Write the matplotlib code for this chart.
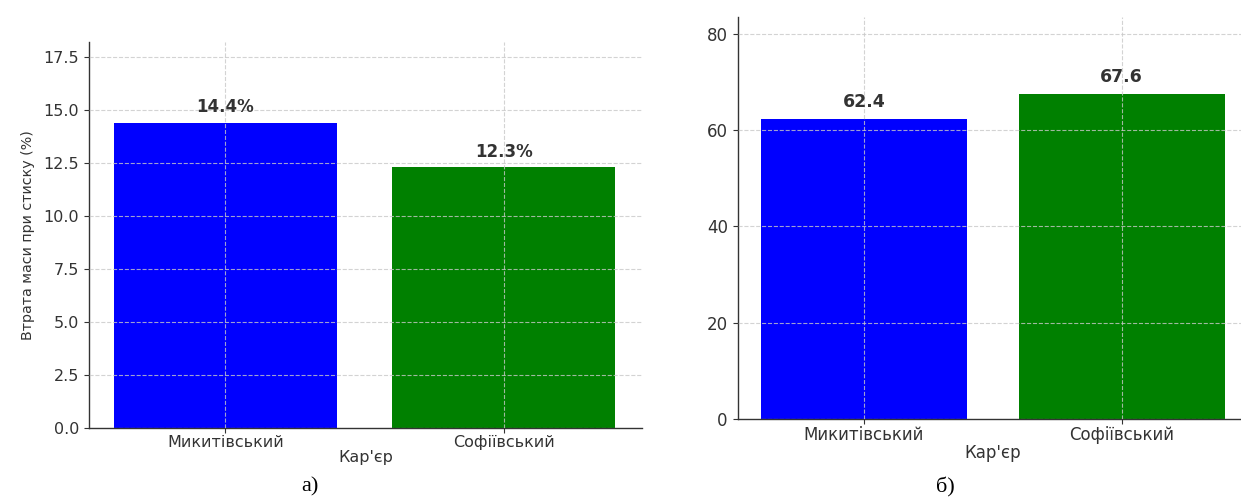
import matplotlib
matplotlib.use("Agg")
import matplotlib.pyplot as plt
from matplotlib.ticker import FormatStrFormatter

quarries = ["Микитівський", "Софіївський"]
mass_loss = [14.4, 12.3]
right_values = [62.4, 67.6]
bar_colors = ["blue", "green"]
xlabel_text = "Кар'єр"
ylabel_left = "Втрата маси при стиску (%)"
left_yticks = [0, 2.5, 5.0, 7.5, 10.0, 12.5, 15.0, 17.5]
right_yticks = [0, 20, 40, 60, 80]
panel_labels = ["а)", "б)"]

plt.rcParams['font.family'] = ['DejaVu Sans']
TXT = '#333333'

fig = plt.figure(figsize=(12.41, 4.99), dpi=100)

def style(ax):
    for s in ['top', 'right']:
        ax.spines[s].set_visible(False)
    for s in ['left', 'bottom']:
        ax.spines[s].set_color('#333333')
        ax.spines[s].set_linewidth(1.0)
    ax.grid(True, linestyle='--', color='#c8c8c8', linewidth=0.8, alpha=0.8)
    ax.set_axisbelow(False)
    ax.tick_params(colors='#333333', labelcolor=TXT)

# Left panel
ax1 = fig.add_axes([0.0717, 0.1423, 0.4456, 0.7735])
x = list(range(len(quarries)))
ax1.bar(x, mass_loss, width=0.8, color=bar_colors, zorder=1)
ax1.set_xlim(-0.49, 1.497)
ax1.set_ylim(0, 18.2)
ax1.set_yticks(left_yticks)
ax1.yaxis.set_major_formatter(FormatStrFormatter('%.1f'))
ax1.set_xticks(x)
ax1.set_xticklabels(quarries)
style(ax1)
ax1.tick_params(axis='both', labelsize=11.5)
ax1.tick_params(axis='x', pad=1.5)
ax1.set_xlabel(xlabel_text, fontsize=11.5, color=TXT, labelpad=0)
ax1.set_ylabel(ylabel_left, fontsize=10.3, color=TXT, labelpad=6)
for xi, v in zip(x, mass_loss):
    ax1.text(xi, v + 0.3, f"{v}%", ha='center', va='bottom', fontsize=12,
             fontweight='bold', color=TXT)

# Right panel
ax2 = fig.add_axes([0.5943, 0.1603, 0.4114, 0.8056])
ax2.bar(x, right_values, width=0.8, color=bar_colors, zorder=1)
ax2.set_xlim(-0.49, 1.49)
ax2.set_ylim(0, 83.5)
ax2.set_yticks(right_yticks)
ax2.set_xticks(x)
ax2.set_xticklabels(quarries)
style(ax2)
ax2.tick_params(axis='both', labelsize=12)
ax2.tick_params(axis='x', pad=1.5)
ax2.set_xlabel(xlabel_text, fontsize=12, color=TXT, labelpad=0)
for xi, v in zip(x, right_values):
    ax2.text(xi, v + 1.5, f"{v}", ha='center', va='bottom', fontsize=12.5,
             fontweight='bold', color=TXT)

fig.text(310 / 1241, 1 - 487 / 499, panel_labels[0], ha='center', va='center',
         fontsize=16, family='Liberation Serif', color='black')
fig.text(945 / 1241, 1 - 487 / 499, panel_labels[1], ha='center', va='center',
         fontsize=16, family='Liberation Serif', color='black')

fig.savefig("out.png", dpi=100)
